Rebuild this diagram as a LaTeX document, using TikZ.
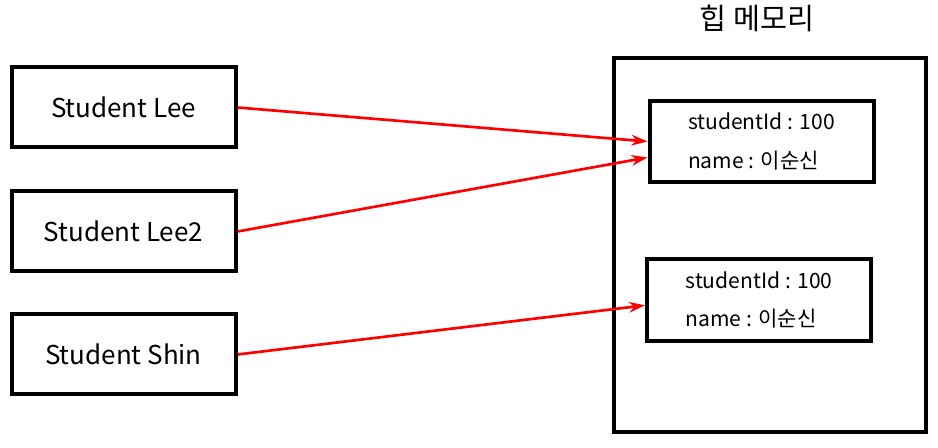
\documentclass[tikz,border=0pt]{standalone}
\usepackage{fontspec}
\setmainfont{Noto Sans CJK KR}
\usetikzlibrary{arrows.meta}

\tikzset{
  refbox/.style={draw, line width=3pt, minimum width=168pt, minimum height=60pt,
    font=\fontsize{19.5}{22}\selectfont},
  objbox/.style={draw, line width=3pt, minimum width=168pt, minimum height=61pt,
    align=left, font=\fontsize{15.8}{29}\selectfont},
  refarrow/.style={red, line width=2pt, -{Stealth[length=12pt,width=8pt]}}
}

\begin{document}
\begin{tikzpicture}[x=0.75pt,y=-0.75pt]
\useasboundingbox (0,0) rectangle (938,448);

% Reference variables
\node[refbox] (lee) at (123.5,107.5) {Student Lee};
\node[refbox] (lee2) at (123.5,231.5) {Student Lee2};
\node[refbox] (shin) at (123.5,354.5) {Student Shin};

% Heap memory
\node[draw, line width=3pt, minimum width=234pt, minimum height=281pt] (heap) at (769.5,245) {};
\node[font=\fontsize{22}{24}\selectfont] (heaplabel) at (757,18) {힙 메모리};

% Objects
\node[objbox] (obj1) at (761.5,141.5) {studentId : 100\\name : 이순신};
\node[objbox] (obj2) at (759,300) {studentId : 100\\name : 이순신};

% References
\draw[refarrow] (lee.east) -- (obj1.west);
\draw[refarrow] (lee2.east) -- ([yshift=-12pt]obj1.west);
\draw[refarrow] (shin.east) -- ([yshift=-4pt]obj2.west);
\end{tikzpicture}
\end{document}
